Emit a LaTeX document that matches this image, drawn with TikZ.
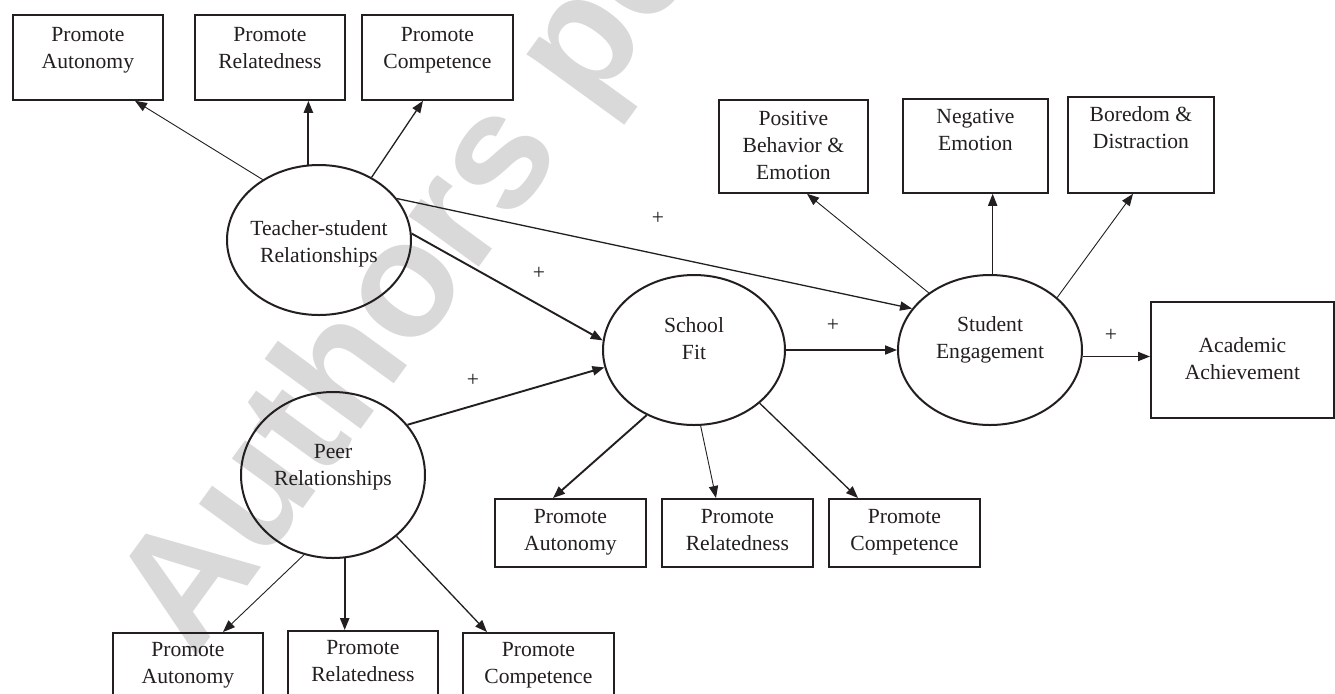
\documentclass[tikz,border=0pt]{standalone}
\usepackage{fontspec}
\setmainfont{Liberation Serif}
\newfontfamily\wmfont{Liberation Sans}
\usetikzlibrary{arrows.meta,shapes.geometric,calc}
\definecolor{ink}{RGB}{35,31,32}
\definecolor{wmgray}{RGB}{217,217,217}
\newcommand{\bx}[4]{\parbox[c][#2][t]{#1}{\centering\vspace*{#3}\strut#4}}
\newcommand{\zl}[1]{\makebox[0pt]{\strut#1}}
\begin{document}
\begin{tikzpicture}[x=0.5pt,y=-0.5pt,
  txt/.style={font=\fontsize{10.8}{13.5}\selectfont, text=ink},
  box/.style={txt, draw=ink, line width=0.9pt, inner sep=0pt, anchor=north west},
  lat/.style={draw=ink, line width=1pt, ellipse, inner sep=0pt},
  ltxt/.style={txt, align=center, inner sep=0pt},
  arr/.style={draw=ink, -{Triangle[length=6pt,width=4.6pt]}},
  lwa/.style={line width=0.45pt},
  lwb/.style={line width=0.65pt},
  lwc/.style={line width=0.95pt},
  plus/.style={txt, inner sep=0pt},
  wmark/.style={font=\wmfont\bfseries\fontsize{82}{82}\selectfont, text=wmgray, inner sep=0pt}]
\useasboundingbox (0,0) rectangle (1335,693);
\fill[white] (0,0) rectangle (1335,693);
\clip (0,0) rectangle (1335,693);
% watermark
\node[wmark, rotate=54, anchor=base west] (wm) at (194,660) {Authors personal copy};
% top-left indicators
\node[box] (ta) at (12,14) {\bx{75pt}{42.5pt}{3.8pt}{Promote\\Autonomy}};
\node[box] (tr) at (194,14) {\bx{75pt}{42.5pt}{3.8pt}{Promote\\Relatedness}};
\node[box] (tc) at (361,14) {\bx{75.5pt}{42.5pt}{3.8pt}{Promote\\Competence}};
% engagement indicators
\node[box] (ep) at (718,99) {\bx{74.5pt}{46.5pt}{3.3pt}{Positive\\Behavior \&\\Emotion}};
\node[box] (en) at (902,98) {\bx{72.5pt}{47pt}{3.0pt}{Negative\\Emotion}};
\node[box] (eb) at (1067,96) {\bx{73pt}{48pt}{3.0pt}{Boredom \&\\Distraction}};
\node[box] (acad) at (1150,301) {\bx{91.5pt}{58pt}{15.8pt}{Academic\\Achievement}};
% school fit indicators
\node[box] (sa) at (494,498) {\bx{75.5pt}{34pt}{3.05pt}{Promote\\Autonomy}};
\node[box] (sr) at (661,498) {\bx{75.5pt}{34pt}{3.05pt}{Promote\\Relatedness}};
\node[box] (sc) at (828,498) {\bx{75.5pt}{34pt}{3.05pt}{Promote\\Competence}};
% peer indicators
\node[box] (ba) at (112,632) {\bx{75pt}{40pt}{2.3pt}{Promote\\Autonomy}};
\node[box] (br) at (287,630) {\bx{75pt}{40pt}{2.3pt}{Promote\\Relatedness}};
\node[box] (bc) at (462,632) {\bx{75.5pt}{40pt}{2.3pt}{Promote\\Competence}};
% latent variables
\node[lat, minimum width=92pt, minimum height=75pt,
  label={[ltxt, yshift=-1.9pt]center:{\zl{Teacher-student}\\\zl{Relationships}}}] (tsr) at (319,240) {};
\node[lat, minimum width=91pt, minimum height=75pt,
  label={[ltxt, yshift=4.75pt]center:{\zl{School}\\\zl{Fit}}}] (sf) at (694,350) {};
\node[lat, minimum width=92pt, minimum height=75pt,
  label={[ltxt, yshift=5pt]center:{\zl{Student}\\\zl{Engagement}}}] (se) at (990,350) {};
\node[lat, minimum width=92pt, minimum height=83pt,
  label={[ltxt, yshift=4pt]center:{\zl{Peer}\\\zl{Relationships}}}] (peer) at (333,475) {};
% connectors
\draw[arr,lwa] (tsr.133) -- ($(ta.south west)+(123,0)$);
\draw[arr,lwc] (tsr.98) -- (tsr.98 |- tr.south);
\draw[arr,lwb] (tsr.50) -- ($(tc.south west)+(62,0)$);
\draw[arr,lwb] (tsr.28) -- (se.152);
\draw[arr,lwc] (tsr.4) -- (sf.174);
\draw[arr,lwc] (peer.34) -- (sf.191);
\draw[arr,lwb] (sf.east) -- (se.west);
\draw[arr,lwb] (se.356) -- (se.356 -| acad.west);
\draw[arr,lwa] (se.137) -- ($(ep.south west)+(89,0)$);
\draw[arr,lwb] (se.88) -- (se.88 |- en.south);
\draw[arr,lwa] (se.38) -- ($(eb.south west)+(66,0)$);
\draw[arr,lwc] (sf.234) -- ($(sa.north west)+(59,0)$);
\draw[arr,lwa] (sf.275) -- ($(sr.north west)+(55,0)$);
\draw[arr,lwb] (sf.321) -- ($(sc.north west)+(30,0)$);
\draw[arr,lwa] (peer.250) -- ($(ba.north west)+(111,0)$);
\draw[arr,lwc] (peer.278) -- (peer.278 |- br.north);
\draw[arr,lwb] (peer.316) -- ($(bc.north west)+(25,0)$);
% signs
\node[plus] (p1) at (658,218) {+};
\node[plus] (p2) at (539,273) {+};
\node[plus] (p3) at (473,380) {+};
\node[plus] (p4) at (833,325) {+};
\node[plus] (p5) at (1111,335) {+};
\end{tikzpicture}
\end{document}
